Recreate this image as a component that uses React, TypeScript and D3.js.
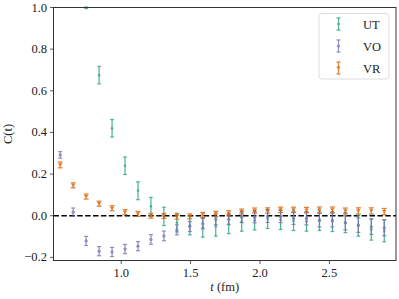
import React from 'react';
import * as d3 from 'd3';

// lattice spacing in fm, time slices are step * spacing
const spacing = 0.0934;

const utSteps = [8, 9, 10, 11, 12, 13, 14, 15, 16, 17, 18, 19, 20, 21, 22, 23, 24, 25, 26, 27, 28, 29, 30, 31];
const utValues = [1.0, 0.675, 0.42, 0.24, 0.12, 0.045, -0.003, -0.033, -0.047, -0.057, -0.052, -0.04, -0.028, -0.022, -0.015, -0.02, -0.024, -0.027, -0.024, -0.028, -0.033, -0.048, -0.066, -0.072];
const utErrors = [0.005, 0.042, 0.042, 0.042, 0.043, 0.043, 0.044, 0.045, 0.045, 0.046, 0.046, 0.046, 0.046, 0.046, 0.046, 0.046, 0.047, 0.047, 0.047, 0.048, 0.048, 0.05, 0.051, 0.053];

const voSteps = [6, 7, 8, 9, 10, 11, 12, 13, 14, 15, 16, 17, 18, 19, 20, 21, 22, 23, 24, 25, 26, 27, 28, 29, 30, 31];
const voValues = [0.292, 0.017, -0.121, -0.17, -0.174, -0.16, -0.146, -0.114, -0.097, -0.068, -0.052, -0.038, -0.018, -0.017, -0.007, -0.007, -0.004, -0.004, -0.012, -0.013, -0.021, -0.021, -0.034, -0.045, -0.053, -0.058];
const voErrors = [0.016, 0.02, 0.022, 0.022, 0.022, 0.022, 0.022, 0.023, 0.023, 0.024, 0.024, 0.025, 0.025, 0.026, 0.026, 0.027, 0.028, 0.029, 0.03, 0.031, 0.032, 0.033, 0.034, 0.035, 0.037, 0.038];

const vrSteps = [6, 7, 8, 9, 10, 11, 12, 13, 14, 15, 16, 17, 18, 19, 20, 21, 22, 23, 24, 25, 26, 27, 28, 29, 30, 31];
const vrValues = [0.244, 0.146, 0.092, 0.058, 0.036, 0.017, 0.009, 0.0, -0.001, -0.004, -0.003, 0.004, 0.009, 0.012, 0.02, 0.025, 0.025, 0.028, 0.028, 0.027, 0.028, 0.028, 0.023, 0.023, 0.023, 0.02];
const vrErrors = [0.014, 0.012, 0.012, 0.012, 0.012, 0.012, 0.012, 0.012, 0.012, 0.012, 0.012, 0.012, 0.012, 0.012, 0.012, 0.012, 0.013, 0.013, 0.013, 0.013, 0.014, 0.014, 0.014, 0.015, 0.015, 0.015];

const seriesNames = ['UT', 'VO', 'VR'];
const seriesColors = ['#1b9e77', '#7570b3', '#d95f02'];

const xTicks = [1.0, 1.5, 2.0, 2.5];
const yTicks = [-0.2, 0.0, 0.2, 0.4, 0.6, 0.8, 1.0];

const W = 399;
const H = 299;
const margin = { left: 53.5, right: 3, top: 7.5, bottom: 38.5 };

const fontFamily = 'Liberation Serif, Times New Roman, DejaVu Serif, Noto Serif, serif';

const Marker = ({ kind, x, y, color }: { kind: number; x: number; y: number; color: string }) => {
  if (kind === 0) return <circle cx={x} cy={y} r={1.3} fill={color} />;
  if (kind === 1) return <circle cx={x} cy={y} r={1.6} fill={color} />;
  return <path d={`M${x - 2.2},${y - 1.6}L${x + 2.2},${y - 1.6}L${x},${y + 2}Z`} fill={color} />;
};

const App = () => {
  const x = d3.scaleLinear().domain([0.512, 2.98]).range([margin.left, W - margin.right]);
  const y = d3.scaleLinear().domain([-0.215, 1.0]).range([H - margin.bottom, margin.top]);

  const series = [
    { steps: utSteps, values: utValues, errors: utErrors, cap: 1.8 },
    { steps: voSteps, values: voValues, errors: voErrors, cap: 2 },
    { steps: vrSteps, values: vrValues, errors: vrErrors, cap: 2.5 },
  ];

  const x0 = margin.left;
  const x1 = W - margin.right;
  const y0 = H - margin.bottom;
  const y1 = margin.top;

  return (
    <svg width={W} height={H} style={{ position: 'absolute', left: 0, top: 0, background: '#fff' }}>
      <defs>
        <clipPath id="plot">
          <rect x={x0} y={y1 - 1} width={x1 - x0} height={y0 - y1 + 1} />
        </clipPath>
      </defs>

      <g clipPath="url(#plot)">
        <line x1={x0} x2={x1} y1={y(0)} y2={y(0)} stroke="#000" strokeWidth={1.5} strokeDasharray="5.5,2.4" />
        {series.map((s, i) => (
          <g key={seriesNames[i]} opacity={0.8}>
            {s.steps.map((n, j) => {
              const cx = x(n * spacing);
              const yt = y(s.values[j] + s.errors[j]);
              const yb = y(s.values[j] - s.errors[j]);
              return (
                <g key={n}>
                  <line x1={cx} x2={cx} y1={yt} y2={yb} stroke={seriesColors[i]} strokeWidth={1.2} />
                  <line x1={cx - s.cap} x2={cx + s.cap} y1={yt} y2={yt} stroke={seriesColors[i]} strokeWidth={1.2} />
                  <line x1={cx - s.cap} x2={cx + s.cap} y1={yb} y2={yb} stroke={seriesColors[i]} strokeWidth={1.2} />
                  <Marker kind={i} x={cx} y={y(s.values[j])} color={seriesColors[i]} />
                </g>
              );
            })}
          </g>
        ))}
      </g>

      <rect x={x0} y={y1} width={x1 - x0} height={y0 - y1} fill="none" stroke="#333" strokeWidth={1} />

      <g fontFamily={fontFamily} fontSize={12.5} fill="#222">
        {xTicks.map((t) => (
          <g key={t}>
            <line x1={x(t)} x2={x(t)} y1={y0} y2={y0 + 3.5} stroke="#333" strokeWidth={0.8} />
            <text x={x(t)} y={y0 + 16} textAnchor="middle">
              {d3.format('.1f')(t)}
            </text>
          </g>
        ))}
        {yTicks.map((t) => (
          <g key={t}>
            <line x1={x0 - 3.5} x2={x0} y1={y(t)} y2={y(t)} stroke="#333" strokeWidth={0.8} />
            <text x={x0 - 6.5} y={y(t) + 4} textAnchor="end">
              {d3.format('.1f')(t).replace('-', '\u2212')}
            </text>
          </g>
        ))}

        <text x={(x0 + x1) / 2} y={291} textAnchor="middle">
          <tspan fontStyle="italic">t</tspan> (fm)
        </text>
        <text transform={`translate(12,${(y0 + y1) / 2}) rotate(-90)`} textAnchor="middle">
          C(t)
        </text>

        <rect x={319} y={13.5} width={70} height={65.5} rx={3} fill="#fff" fillOpacity={0.8} stroke="#ddd" strokeWidth={1} />
        {seriesNames.map((name, i) => {
          const ly = 24 + i * 22;
          return (
            <g key={name}>
              <g opacity={0.8}>
                <line x1={338.5} x2={338.5} y1={ly - 6} y2={ly + 6} stroke={seriesColors[i]} strokeWidth={1.2} />
                <line x1={336.5} x2={340.5} y1={ly - 6} y2={ly - 6} stroke={seriesColors[i]} strokeWidth={1.2} />
                <line x1={336.5} x2={340.5} y1={ly + 6} y2={ly + 6} stroke={seriesColors[i]} strokeWidth={1.2} />
                <Marker kind={i} x={338.5} y={ly} color={seriesColors[i]} />
              </g>
              <text x={363} y={ly + 4.5}>
                {name}
              </text>
            </g>
          );
        })}
      </g>
    </svg>
  );
};

export default App;
